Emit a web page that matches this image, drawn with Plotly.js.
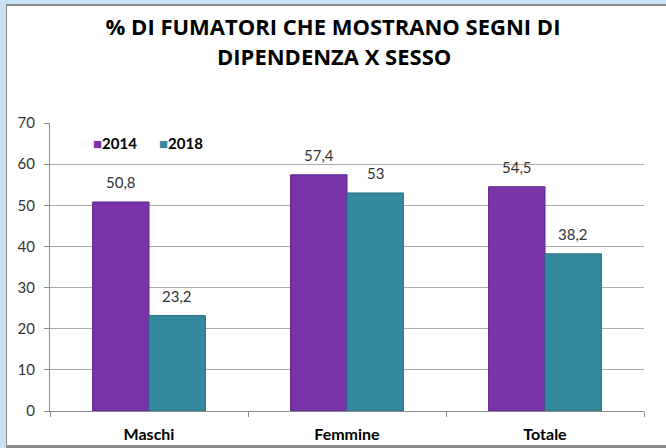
<!DOCTYPE html>
<html>
<head>
<meta charset="utf-8">
<script src="https://cdn.plot.ly/plotly-3.0.1.min.js"></script>
<style>
  html, body { margin: 0; padding: 0; }
  body { width: 666px; height: 448px; background: #c7e1f7; position: relative; overflow: hidden; }
  #frame { position: absolute; left: 6px; top: 4px; width: 660px; height: 444px;
           background: #ffffff; border-left: 1px solid #8c8c8c; border-top: 2px solid #8c8c8c; border-bottom: 3px solid #8c8c8c; box-sizing: border-box; }
  #chart { position: absolute; left: 0; top: 0; width: 666px; height: 448px; }
</style>
</head>
<body>
<div id="frame"></div>
<div id="chart"></div>
<script>
const categories = ["Maschi", "Femmine", "Totale"];
const values2014 = [50.8, 57.4, 54.5];
const values2018 = [23.2, 53, 38.2];
const seriesNames = ["2014", "2018"];
const yTicks = [0, 10, 20, 30, 40, 50, 60, 70];
const titleLines = ["% DI FUMATORI CHE MOSTRANO SEGNI DI", "DIPENDENZA X SESSO"];

const fmt = v => String(v).replace(".", ",");
const purple = "#7834a8";
const teal = "#34899f";
const colors = [purple, teal];
const lineColors = ["#5f2689", "#2a7286"];
const FONT = "Lato, 'Open Sans', sans-serif";

// plot area: y from 123 (value 70) to 411 (value 0) => 288 px
const plotTop = 123, plotH = 288;
const paperY = py => (plotTop + plotH - py) / plotH;
const paperX = px => (px - 50) / 594;

const traces = [values2014, values2018].map((vals, s) => ({
  type: "bar", name: seriesNames[s], x: categories, y: vals,
  marker: { color: colors[s], line: { color: lineColors[s], width: 1 } },
  hoverinfo: "none", showlegend: false
}));

const annotations = [];
[values2014, values2018].forEach((vals, s) => {
  vals.forEach((v, i) => {
    annotations.push({ x: categories[i], y: v, xref: "x", yref: "y", text: fmt(v),
      showarrow: false, xshift: s === 0 ? -28 : 28, yshift: 20,
      font: { family: FONT, size: 15, color: "#333333" } });
  });
});

// second title line
annotations.push({ xref: "paper", yref: "paper", x: paperX(334), y: paperY(56),
  xanchor: "center", yanchor: "middle", showarrow: false, text: titleLines[1],
  font: { family: "'Open Sans', sans-serif", size: 22, color: "#000000", weight: "bold" } });

// legend entries (colored square + bold label)
const legendX = [91, 157];
seriesNames.forEach((n, s) => {
  annotations.push({ xref: "paper", yref: "paper", x: paperX(legendX[s]), y: paperY(143),
    xanchor: "left", yanchor: "middle", showarrow: false,
    text: "<span style='color:" + colors[s] + ";font-size:15px'>■</span><b>" + n + "</b>",
    font: { family: FONT, size: 15, color: "#000000" } });
});

const layout = {
  width: 666, height: 448,
  paper_bgcolor: "rgba(0,0,0,0)", plot_bgcolor: "rgba(0,0,0,0)",
  margin: { l: 50, r: 22, t: 123, b: 37, pad: 0 },
  title: { text: titleLines[0],
    font: { family: "'Open Sans', sans-serif", size: 22, color: "#000000", weight: "bold" },
    x: 0.5, xanchor: "center", xref: "container", y: 1 - 27 / 448, yanchor: "middle", yref: "container" },
  barmode: "group", bargap: 0.43, bargroupgap: 0,
  showlegend: false,
  xaxis: { type: "category", tickson: "boundaries", ticks: "outside", ticklen: 5, tickcolor: "#8c8c8c",
    showline: true, linecolor: "#8c8c8c", linewidth: 1, showgrid: false, fixedrange: true,
    ticklabelstandoff: 9,
    tickfont: { family: FONT, size: 16, color: "#000000", weight: "bold" } },
  yaxis: { range: [0, 70], tickvals: yTicks, ticks: "outside", ticklen: 5, tickcolor: "#8c8c8c",
    showline: true, linecolor: "#8c8c8c", linewidth: 1, showgrid: true, gridcolor: "#ababab", gridwidth: 1,
    zeroline: false, fixedrange: true, ticklabelstandoff: 6,
    tickfont: { family: FONT, size: 15, color: "#333333" } },
  annotations: annotations
};

Plotly.newPlot("chart", traces, layout, { displayModeBar: false, staticPlot: true });
</script>
</body>
</html>
